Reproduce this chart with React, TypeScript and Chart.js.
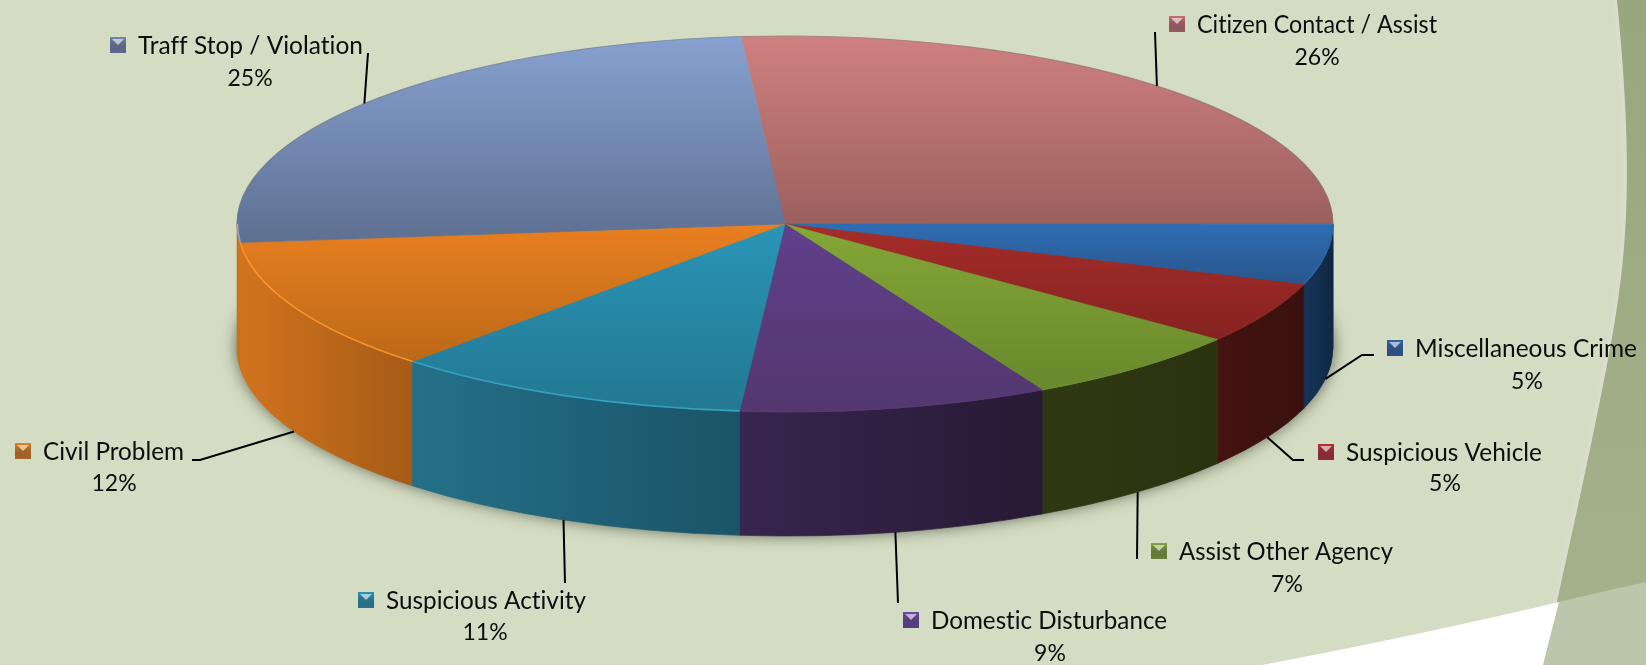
import React, { useEffect, useRef } from "react";
import { Chart, registerables } from "chart.js";

Chart.register(...registerables);

const categories = [
  "Citizen Contact / Assist",
  "Miscellaneous Crime",
  "Suspicious Vehicle",
  "Assist Other Agency",
  "Domestic Disturbance",
  "Suspicious Activity",
  "Civil Problem",
  "Traff Stop / Violation",
];
// Unrounded shares; the labels show them rounded.
const shares = [26.3, 5.2, 5.3, 6.7, 9.1, 10.6, 11.5, 25.3];

const topLight = ["#CF817F", "#2F6DB3", "#A62C29", "#84A735", "#60408C", "#2A95B7", "#E97F20", "#87A1D0"];
const topDark = ["#9B5F5D", "#28568C", "#852320", "#68882D", "#53376E", "#227891", "#BB6918", "#5E7091"];
const wallLight = ["#8a5553", "#17345A", "#431311", "#303813", "#38254E", "#257089", "#D2741E", "#C9701C"];
const wallDark = ["#7a4a48", "#0E2844", "#3A100E", "#2B3210", "#271A34", "#1A5468", "#A65B16", "#C9701C"];
const rimLight = ["#c07a78", "#2C64A4", "#8C2623", "#6E8E30", "#573A74", "#36A0C0", "#F8922F", "#8da6d3"];
const markerColor = ["#C9716F", "#2F64A8", "#B8302E", "#86A83A", "#6E4AA2", "#2C96B0", "#E5801F", "#7488B0"];

// Layout of the outside labels, in canvas pixels (not data).
const markerLeft = [1169, 1387, 1318, 1151, 903, 358, 15, 110];
const nameMiddle = [25, 349, 453, 552, 621, 601, 452, 46];
const nameWidth = [240, 222, 196, 214, 236, 200, 141, 225];
const percentCenter = [1317, 1527, 1445, 1287, 1050, 485, 114, 250];
const percentMiddle = [58, 382, 484, 585, 654, 633, 484, 79];
const leaderStart: number[][][] = [
  [[1155, 32]],
  [[1374, 355], [1362, 355]],
  [[1304, 460], [1293, 460]],
  [[1137, 559]],
  [[898, 603]],
  [[565, 583]],
  [[192, 460], [200, 460]],
  [[368, 53]],
];

const PIE_RADIUS = 548;
const SQUASH = 188 / 548;
const DEPTH = 124;
const ROTATION = -4.6;
const FONT = '24.5px Lato, "Open Sans", sans-serif';
const PERCENT_FONT = '23px Lato, "Open Sans", sans-serif';

const sliceAngles = (i: number) => {
  const total = shares.reduce((a, b) => a + b, 0);
  const before = shares.slice(0, i).reduce((a, b) => a + b, 0);
  const base = -Math.PI / 2 + (ROTATION * Math.PI) / 180;
  return [base + (before / total) * 2 * Math.PI, base + ((before + shares[i]) / total) * 2 * Math.PI];
};

const topFill = (c: any) => {
  const chart = c.chart;
  const area = chart.chartArea;
  if (!area) return topLight[c.dataIndex];
  const cy = (area.top + area.bottom) / 2;
  const [a0, a1] = sliceAngles(c.dataIndex);
  const ys = [0, Math.sin(a0), Math.sin(a1)];
  for (const e of [-Math.PI / 2, Math.PI / 2, (3 * Math.PI) / 2]) if (a0 < e && e < a1) ys.push(Math.sin(e));
  const g = chart.ctx.createLinearGradient(
    0,
    cy + PIE_RADIUS * Math.min(...ys),
    0,
    cy + PIE_RADIUS * Math.max(...ys)
  );
  g.addColorStop(0, topLight[c.dataIndex]);
  g.addColorStop(1, topDark[c.dataIndex]);
  return g;
};

const backdrop = {
  id: "backdrop",
  beforeDraw(chart: any) {
    const { ctx } = chart;
    ctx.save();
    ctx.fillStyle = "#D4DDC4";
    ctx.fillRect(0, 0, 1646, 665);

    const edge = () => {
      ctx.moveTo(1617, 0);
      ctx.bezierCurveTo(1628, 110, 1632, 210, 1618, 300);
      ctx.bezierCurveTo(1610, 360, 1580, 500, 1543, 665);
    };
    ctx.beginPath();
    edge();
    ctx.strokeStyle = "rgba(222,225,212,0.45)";
    ctx.lineWidth = 8;
    ctx.stroke();

    ctx.beginPath();
    edge();
    ctx.lineTo(1646, 665);
    ctx.lineTo(1646, 0);
    ctx.closePath();
    const band = ctx.createLinearGradient(0, 0, 0, 600);
    band.addColorStop(0, "#98A77D");
    band.addColorStop(1, "#A5B18B");
    ctx.fillStyle = band;
    ctx.fill();

    ctx.beginPath();
    ctx.moveTo(1559, 602);
    ctx.quadraticCurveTo(1600, 592, 1646, 582);
    ctx.lineTo(1646, 665);
    ctx.lineTo(1543, 665);
    ctx.closePath();
    ctx.fillStyle = "#BCC6AB";
    ctx.fill();

    ctx.beginPath();
    ctx.moveTo(1262, 665);
    ctx.quadraticCurveTo(1420, 635, 1559, 602);
    ctx.lineTo(1543, 665);
    ctx.closePath();
    ctx.fillStyle = "#FFFFFF";
    ctx.fill();
    ctx.restore();
  },
};

const pie3d = {
  id: "pie3d",
  beforeDatasetsDraw(chart: any) {
    const { ctx } = chart;
    const arcs = chart.getDatasetMeta(0).data;
    const { x: cx, y: cy } = arcs[0];
    const r = arcs[0].outerRadius;
    const ry = r * SQUASH;

    ctx.save();
    ctx.shadowColor = "rgba(50,50,35,0.75)";
    ctx.shadowBlur = 16;
    ctx.fillStyle = "#555";
    ctx.beginPath();
    ctx.ellipse(cx, cy + DEPTH - 1, r, ry, 0, 0, Math.PI * 2);
    ctx.fill();
    ctx.restore();

    arcs.forEach((arc: any, i: number) => {
      const a0 = Math.max(arc.startAngle, 0);
      const a1 = Math.min(arc.endAngle, Math.PI);
      if (a1 <= a0) return;
      const x0 = cx + r * Math.cos(a0);
      const x1 = cx + r * Math.cos(a1);
      const g = ctx.createLinearGradient(Math.min(x0, x1), 0, Math.max(x0, x1), 0);
      g.addColorStop(0, wallLight[i]);
      g.addColorStop(1, wallDark[i]);
      ctx.fillStyle = g;
      ctx.strokeStyle = g;
      ctx.lineWidth = 0.6;
      ctx.beginPath();
      ctx.ellipse(cx, cy, r, ry, 0, a0, a1);
      ctx.ellipse(cx, cy + DEPTH, r, ry, 0, a1, a0, true);
      ctx.closePath();
      ctx.fill();
      ctx.stroke();
    });

    ctx.save();
    ctx.translate(cx, cy);
    ctx.scale(1, SQUASH);
    ctx.translate(-cx, -cy);
  },
  afterDatasetsDraw(chart: any) {
    const { ctx } = chart;
    ctx.restore();
    const arcs = chart.getDatasetMeta(0).data;
    const { x: cx, y: cy } = arcs[0];
    const r = arcs[0].outerRadius;
    const ry = r * SQUASH;

    // Bright line along the front rim, thin grey line along the back rim.
    arcs.forEach((arc: any, i: number) => {
      const a0 = Math.max(arc.startAngle, 0);
      const a1 = Math.min(arc.endAngle, Math.PI);
      if (a1 > a0) {
        ctx.beginPath();
        ctx.ellipse(cx, cy, r - 0.5, ry - 0.5, 0, a0, a1);
        ctx.strokeStyle = rimLight[i];
        ctx.lineWidth = 1.6;
        ctx.stroke();
      }
    });
    ctx.beginPath();
    ctx.ellipse(cx, cy, r, ry, 0, Math.PI, Math.PI * 2);
    ctx.strokeStyle = "rgba(110,115,105,0.4)";
    ctx.lineWidth = 1.2;
    ctx.stroke();

    // Leader lines end on the rim at each slice's middle angle.
    ctx.strokeStyle = "#000";
    ctx.lineWidth = 2;
    arcs.forEach((arc: any, i: number) => {
      const mid = (arc.startAngle + arc.endAngle) / 2;
      const s = Math.sin(mid);
      const ex = cx + r * Math.cos(mid);
      const ey = cy + ry * s + (s > 0 ? DEPTH : 0);
      ctx.beginPath();
      leaderStart[i].forEach(([x, y], k) => (k ? ctx.lineTo(x, y) : ctx.moveTo(x, y)));
      ctx.lineTo(ex, ey);
      ctx.stroke();
    });

    // Labels
    ctx.textBaseline = "middle";
    (ctx as any).letterSpacing = "0.01px";
    categories.forEach((name, i) => {
      const mx = markerLeft[i];
      const my = nameMiddle[i] - 9;
      const g = ctx.createLinearGradient(0, my, 0, my + 16);
      g.addColorStop(0, markerColor[i]);
      g.addColorStop(1, "rgba(40,40,60,0.3)");
      ctx.fillStyle = markerColor[i];
      ctx.fillRect(mx, my, 16, 16);
      ctx.fillStyle = g;
      ctx.fillRect(mx, my, 16, 16);
      ctx.beginPath();
      ctx.moveTo(mx + 2, my + 2);
      ctx.lineTo(mx + 14, my + 2);
      ctx.lineTo(mx + 8, my + 8);
      ctx.closePath();
      ctx.fillStyle = "rgba(255,255,255,0.6)";
      ctx.fill();

      ctx.fillStyle = "#0D0D0D";
      ctx.font = FONT;
      ctx.textAlign = "left";
      ctx.fillText(name, mx + 28, nameMiddle[i], nameWidth[i]);
      ctx.font = PERCENT_FONT;
      ctx.textAlign = "center";
      ctx.fillText(`${Math.round(shares[i])}%`, percentCenter[i], percentMiddle[i]);
    });
  },
};

export default function App() {
  const ref = useRef<HTMLCanvasElement | null>(null);
  useEffect(() => {
    document.body.style.margin = "0";
    document.body.style.background = "#D4DDC4";
    const chart = new Chart(ref.current as HTMLCanvasElement, {
      type: "pie",
      data: {
        labels: categories,
        datasets: [
          {
            data: shares,
            backgroundColor: topFill,
            borderColor: topFill,
            borderWidth: 1,
            clip: false,
          } as any,
        ],
      },
      options: {
        responsive: false,
        animation: false,
        devicePixelRatio: 1,
        events: [],
        radius: PIE_RADIUS,
        rotation: ROTATION,
        layout: { padding: { left: 0, top: 0, right: 76, bottom: 217 } },
        plugins: { legend: { display: false }, tooltip: { enabled: false } },
      } as any,
      plugins: [backdrop, pie3d],
    });
    return () => chart.destroy();
  }, []);
  return <canvas ref={ref} width={1646} height={665} style={{ display: "block" }} />;
}
